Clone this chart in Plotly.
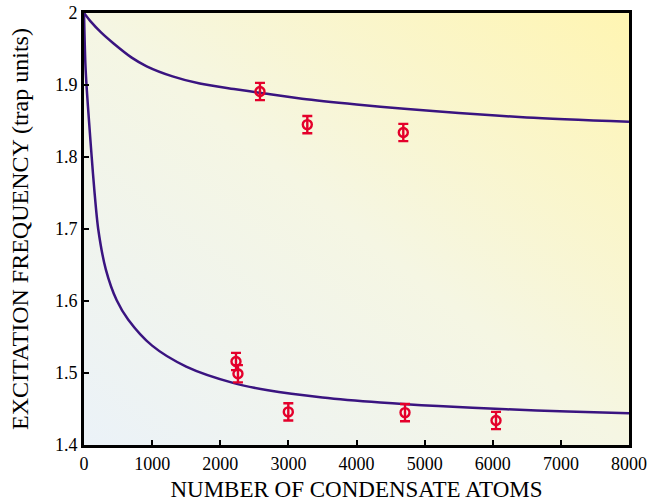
import base64
import plotly.graph_objects as go

# Theory curves
upper_n = [0, 100, 250, 430, 700, 920, 1300, 1700, 2200, 2600, 3200, 4000, 4700, 5500, 6500, 8000]
upper_f = [2.0, 1.988, 1.973, 1.958, 1.938, 1.926, 1.912, 1.902, 1.8945, 1.889, 1.881, 1.873,
           1.867, 1.861, 1.855, 1.849]

lower_n = [0, 20, 40, 75, 113, 150, 210, 320, 480, 650, 1000, 1500, 2200, 2700, 3500, 4350,
           5200, 6200, 7100, 8000]
lower_f = [2.0, 1.93, 1.895, 1.848, 1.80, 1.756, 1.699, 1.644, 1.601, 1.574, 1.538, 1.509,
           1.486, 1.476, 1.466, 1.459, 1.454, 1.4496, 1.4465, 1.444]

# Measured points
meas_n = [2583, 3278, 4687, 2231, 2260, 2999, 4712, 6048]
meas_f = [1.891, 1.845, 1.834, 1.516, 1.499, 1.446, 1.445, 1.434]
meas_err = [0.012, 0.012, 0.012, 0.012, 0.012, 0.012, 0.012, 0.012]

x_ticks = [0, 1000, 2000, 3000, 4000, 5000, 6000, 7000, 8000]
x_labels = ["0", "1000", "2000", "3000", "4000", "5000", "6000", "7000", "8000"]
y_ticks = [1.4, 1.5, 1.6, 1.7, 1.8, 1.9, 2.0]
y_labels = ["1.4", "1.5", "1.6", "1.7", "1.8", "1.9", "2"]

curve_color = "#3a1480"
point_color = "#e4002b"
font_family = "Liberation Serif, Times New Roman, serif"

fig = go.Figure()
for xs, ys in [(upper_n, upper_f), (lower_n, lower_f)]:
    fig.add_trace(go.Scatter(x=xs, y=ys, mode="lines",
                             line=dict(color=curve_color, width=2.5, shape="spline", smoothing=0.8),
                             showlegend=False, hoverinfo="skip"))

fig.add_trace(go.Scatter(
    x=meas_n, y=meas_f, mode="markers",
    marker=dict(symbol="circle-open", size=9, color=point_color, line=dict(width=2.4, color=point_color)),
    error_y=dict(type="data", array=meas_err, visible=True, color=point_color, thickness=2.4, width=5),
    showlegend=False))

svg = ('<svg xmlns="http://www.w3.org/2000/svg" width="100" height="100" viewBox="0 0 100 100" '
       'preserveAspectRatio="none"><defs><linearGradient id="g" x1="0" y1="1" x2="1" y2="0">'
       '<stop offset="0" stop-color="#ebf2f8"/><stop offset="0.5" stop-color="#f5f6e3"/>'
       '<stop offset="1" stop-color="#fff5b2"/></linearGradient></defs>'
       '<rect width="100" height="100" fill="url(#g)"/></svg>')
src = "data:image/svg+xml;base64," + base64.b64encode(svg.encode()).decode()

fig.update_layout(
    width=649, height=502,
    margin=dict(l=84, r=20, t=13, b=57),
    paper_bgcolor="white",
    plot_bgcolor="rgba(0,0,0,0)",
    font=dict(family=font_family, color="black", size=18),
    images=[dict(source=src, xref="paper", yref="paper", x=0, y=1, sizex=1, sizey=1,
                 xanchor="left", yanchor="top", sizing="stretch", layer="below")],
    xaxis=dict(range=[0, 8000], tickvals=x_ticks, ticktext=x_labels, ticks="inside",
               ticklen=5, tickwidth=2, tickcolor="black", showgrid=False, zeroline=False,
               showline=True, mirror=True, linewidth=3, linecolor="black", automargin=False,
               tickfont=dict(size=18),
               title=dict(text="NUMBER OF CONDENSATE ATOMS", font=dict(size=23), standoff=9)),
    yaxis=dict(range=[1.4, 2.0], tickvals=y_ticks, ticktext=y_labels, ticks="inside",
               ticklen=5, tickwidth=2, tickcolor="black", showgrid=False, zeroline=False,
               showline=True, mirror=True, linewidth=3, linecolor="black", automargin=False,
               tickfont=dict(size=18),
               title=dict(text="EXCITATION FREQUENCY (trap units)", font=dict(size=24), standoff=20)),
)

fig.write_html("out.html", config={"displayModeBar": False},
               post_script="document.body.style.margin='0';")
